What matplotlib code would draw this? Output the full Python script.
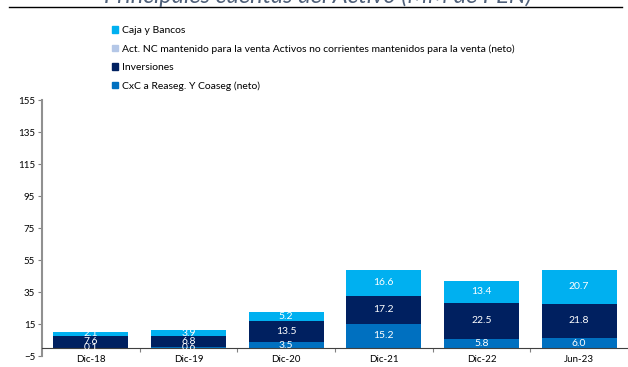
import numpy as np
import matplotlib.pyplot as plt
from matplotlib.patches import Patch

plt.rcParams['font.family'] = ['Lato', 'DejaVu Sans']

# datos (MM de PEN)
periodos = ['Dic-18', 'Dic-19', 'Dic-20', 'Dic-21', 'Dic-22', 'Jun-23']
cxc = [0.1, 0.6, 3.5, 15.2, 5.8, 6.0]
inversiones = [7.6, 6.8, 13.5, 17.2, 22.5, 21.8]
act_nc = [0.0, 0.0, 0.0, 0.0, 0.0, 0.0]
caja = [2.1, 3.9, 5.2, 16.6, 13.4, 20.7]

nombres = ['CxC a Reaseg. Y Coaseg (neto)', 'Inversiones',
           'Act. NC mantenido para la venta Activos no corrientes mantenidos para la venta (neto)',
           'Caja y Bancos']
colores = ['#0070C0', '#002060', '#B4C7E7', '#00B0F0']

fig = plt.figure(figsize=(6.28, 3.67), dpi=100)
ax = fig.add_axes([42 / 628, 11 / 367, 1 - 42 / 628, 256 / 367])

x = np.arange(len(periodos))
base = np.zeros(len(periodos))
series = [cxc, inversiones, act_nc, caja]
for serie, nombre, color in zip(series, nombres, colores):
    vals = np.array(serie)
    barras = ax.bar(x, vals, 0.77, bottom=base, color=color, label=nombre)
    if nombre != nombres[2]:
        ax.bar_label(barras, labels=['%.1f' % v for v in vals], label_type='center',
                     color='white', fontsize=7.5)
    base = base + vals

# ejes
ax.set_xlim(-0.5, len(periodos) - 0.5)
ax.set_ylim(-5, 155)
ax.set_yticks(np.arange(-5, 156, 20))
ax.tick_params(axis='y', direction='out', length=3, width=0.8, colors='#808080',
               labelcolor='black', labelsize=7, pad=2)
ax.set_xticks(x)
ax.set_xticklabels(periodos)
ax.set_xticks(x[:-1] + 0.5, minor=True)
ax.tick_params(axis='x', which='major', length=0, labelsize=7, pad=5)
ax.tick_params(axis='x', which='minor', length=3, width=0.8, color='#808080')
ax.spines['bottom'].set_position(('data', 0))
ax.spines['bottom'].set_color('#404040')
ax.spines['left'].set_color('#909090')
ax.spines['left'].set_linewidth(1.5)
ax.spines['top'].set_visible(False)
ax.spines['right'].set_visible(False)

# leyenda (orden inverso)
handles = [Patch(color=c) for c in colores][::-1]
fig.legend(handles, nombres[::-1], loc='upper left', bbox_to_anchor=(112 / 628, 1 - 26 / 367),
           frameon=False, fontsize=7.5, handlelength=0.6, handleheight=0.6,
           handletextpad=0.4, labelspacing=0.88, borderpad=0, borderaxespad=0)

# titulo cortado en la parte superior
fig.text(318 / 628, 1 - 3 / 367, 'Principales cuentas del Activo (MM de PEN)', ha='center',
         va='baseline', fontsize=17, style='italic', color='#4F6079')
fig.add_artist(plt.Line2D([9 / 628, 622 / 628], [1 - 7 / 367, 1 - 7 / 367], color='black', lw=1))

fig.savefig('out.png', dpi=100)
